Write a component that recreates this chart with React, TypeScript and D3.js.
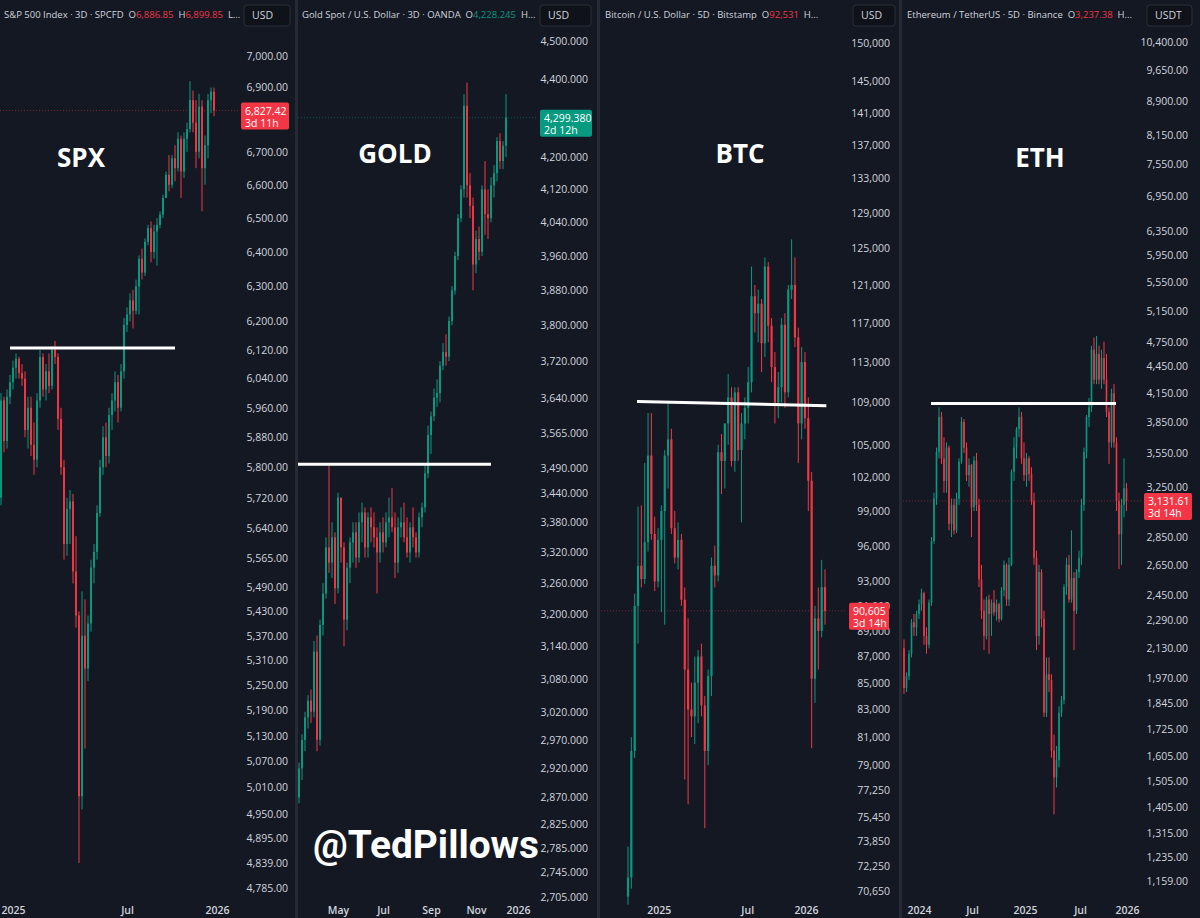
import React, { useRef, useEffect } from 'react';
import * as d3 from 'd3';

// [high, low, close] per bar, open is the previous close
type Candle = [number, number, number];

const UP = '#089981';
const DOWN = '#f23645';
const BG = '#141823';
const TEXT = '#d1d4dc';
const FONT = "'Open Sans', 'Noto Sans', sans-serif";

// ---------- S&P 500 ----------
const spxTicks = [7000, 6900, 6700, 6600, 6500, 6400, 6300, 6200, 6120, 6040, 5960, 5880, 5800, 5720, 5640, 5565, 5490, 5430, 5370, 5310, 5250, 5190, 5130, 5070, 5010, 4950, 4895, 4839, 4785];
const spxOpen = 5720;
const spxCandles: Candle[] = [
  [6000, 5700, 5980], [5990, 5840, 5870], [6010, 5850, 5990], [6050, 5970, 6030], [6090, 6010, 6070],
  [6110, 6040, 6095], [6100, 6040, 6055], [6080, 6020, 6040], [6060, 5880, 5900], [5990, 5850, 5960],
  [5990, 5830, 5860], [5920, 5780, 5820], [6000, 5800, 5980], [6120, 5960, 6100], [6110, 5990, 6010],
  [6080, 5980, 6060], [6110, 6000, 6020], [6130, 6010, 6120], [6145, 6080, 6100], [6110, 5900, 5930],
  [5960, 5780, 5800], [5820, 5560, 5600], [5720, 5570, 5690], [5740, 5600, 5710], [5730, 5500, 5530],
  [5620, 5390, 5420], [5430, 4840, 4990], [5480, 4960, 5370], [5460, 5100, 5290], [5420, 5260, 5400],
  [5560, 5380, 5540], [5600, 5500, 5580], [5700, 5560, 5680], [5820, 5670, 5800], [5910, 5780, 5880],
  [5920, 5800, 5830], [5960, 5810, 5940], [6000, 5900, 5980], [6060, 5950, 6030], [6050, 5920, 5960],
  [6080, 5950, 6060], [6210, 6040, 6190], [6240, 6170, 6220], [6280, 6200, 6260], [6290, 6180, 6230],
  [6320, 6220, 6300], [6390, 6220, 6380], [6410, 6320, 6340], [6440, 6330, 6430], [6480, 6420, 6470],
  [6490, 6370, 6400], [6480, 6380, 6460], [6500, 6360, 6480], [6520, 6470, 6510], [6570, 6500, 6560],
  [6640, 6560, 6630], [6690, 6580, 6600], [6690, 6590, 6680], [6720, 6610, 6650], [6760, 6640, 6740],
  [6750, 6560, 6640], [6760, 6620, 6740], [6790, 6700, 6770], [6920, 6760, 6860], [6890, 6760, 6790],
  [6860, 6650, 6700], [6880, 6680, 6840], [6860, 6520, 6650], [6750, 6600, 6720], [6880, 6680, 6860],
  [6900, 6820, 6886.85], [6899.85, 6810, 6827.42],
];
const spxDates = [{ label: '2025', at: 4 }, { label: 'Jul', at: 42 }, { label: '2026', at: 72 }];
const spxLevel = { from: 3, to: 58, start: 6125, end: 6125 };
const spxLast = { value: 6827.42, countdown: '3d 11h' };
const spxHeader = [
  { t: 'S&P 500 Index · 3D · SPCFD  O', c: TEXT }, { t: '6,886.85', c: DOWN },
  { t: '  H', c: TEXT }, { t: '6,899.85', c: DOWN }, { t: '  L...', c: TEXT },
];

// ---------- Gold ----------
const goldTicks = [4500, 4400, 4200, 4120, 4040, 3960, 3880, 3800, 3720, 3640, 3565, 3490, 3440, 3380, 3320, 3260, 3200, 3140, 3080, 3020, 2970, 2920, 2870, 2825, 2785, 2745, 2705];
const goldOpen = 2870;
const goldCandles: Candle[] = [
  [2930, 2860, 2920], [2980, 2900, 2970], [3020, 2950, 3010], [3050, 2990, 3040], [3060, 3000, 3020],
  [3150, 3010, 3130], [3160, 2950, 2970], [3190, 2960, 3180], [3260, 3160, 3240], [3350, 3230, 3330],
  [3500, 3280, 3300], [3380, 3270, 3350], [3360, 3220, 3250], [3440, 3240, 3430], [3430, 3300, 3330],
  [3340, 3140, 3190], [3300, 3170, 3290], [3350, 3260, 3340], [3380, 3300, 3360], [3380, 3290, 3310],
  [3400, 3300, 3380], [3420, 3340, 3400], [3410, 3310, 3330], [3400, 3310, 3390], [3410, 3340, 3370],
  [3400, 3330, 3350], [3370, 3240, 3320], [3380, 3300, 3360], [3390, 3320, 3340], [3400, 3330, 3380],
  [3430, 3350, 3390], [3450, 3360, 3370], [3400, 3270, 3300], [3390, 3280, 3370], [3410, 3350, 3380],
  [3420, 3340, 3350], [3390, 3310, 3320], [3380, 3300, 3370], [3410, 3330, 3350], [3360, 3310, 3320],
  [3400, 3310, 3390], [3420, 3370, 3410], [3500, 3400, 3480], [3580, 3470, 3560], [3610, 3520, 3600],
  [3660, 3590, 3640], [3680, 3620, 3650], [3720, 3630, 3710], [3760, 3700, 3740], [3780, 3710, 3730],
  [3820, 3720, 3810], [3890, 3800, 3880], [3970, 3870, 3960], [4060, 3950, 4050], [4130, 4040, 4120],
  [4360, 4100, 4330], [4390, 4100, 4130], [4160, 4050, 4080], [4100, 3880, 3940], [4020, 3920, 4000],
  [4030, 3950, 3970], [4130, 3960, 4120], [4190, 4010, 4060], [4120, 4000, 4050], [4150, 4040, 4130],
  [4180, 4100, 4160], [4250, 4140, 4240], [4260, 4170, 4190], [4240, 4170, 4228.245], [4360, 4200, 4299.38],
];
const goldDates = [{ label: 'May', at: 13 }, { label: 'Jul', at: 28 }, { label: 'Sep', at: 44 }, { label: 'Nov', at: 59 }, { label: '2026', at: 73 }];
const goldLevel = { from: -0.4, to: 64, start: 3499, end: 3499 };
const goldLast = { value: 4299.38, countdown: '2d 12h' };
const goldHeader = [
  { t: 'Gold Spot / U.S. Dollar · 3D · OANDA  O', c: TEXT }, { t: '4,228.245', c: UP }, { t: '  H...', c: TEXT },
];

// ---------- Bitcoin ----------
const btcTicks = [150000, 145000, 141000, 137000, 133000, 129000, 125000, 121000, 117000, 113000, 109000, 105000, 102000, 99000, 96000, 93000, 91000, 89000, 87000, 85000, 83000, 81000, 79000, 77250, 75450, 73850, 72250, 70650];
const btcOpen = 70300;
const btcCandles: Candle[] = [
  [73500, 69800, 71500], [81000, 70800, 80000], [92000, 79500, 91000], [99400, 88000, 94300], [99500, 92500, 93200],
  [103300, 92800, 96300], [108000, 95500, 104000], [108000, 96500, 97000], [98500, 92200, 93000], [97500, 92500, 96500],
  [99500, 90500, 99000], [104500, 89500, 104000], [109000, 101000, 105500], [106500, 97000, 97500], [99000, 94500, 95000],
  [98000, 94000, 96500], [97000, 91000, 91500], [92500, 78000, 86000], [90000, 76300, 83000], [85000, 81000, 82500],
  [87000, 80500, 85000], [87500, 82000, 87000], [88000, 82500, 83300], [84000, 74700, 80000], [86000, 79000, 85500],
  [95000, 84000, 94300], [96000, 92500, 93500], [105000, 93000, 104300], [106000, 100500, 103500], [107000, 101000, 107000],
  [111800, 105000, 109500], [110500, 103000, 103500], [110500, 102500, 110000], [110500, 103500, 104500], [108000, 98000, 107000],
  [109500, 105500, 108500], [112500, 107000, 111000], [123000, 110000, 119800], [121000, 116000, 118000], [120500, 115000, 119000],
  [119500, 112000, 114900], [124000, 113500, 123000], [123500, 115000, 116700], [117500, 111000, 112500], [114000, 107000, 109000],
  [112000, 107500, 110500], [117500, 109000, 116800], [118000, 108500, 110000], [121000, 109500, 120500], [126000, 119500, 121000],
  [124000, 114500, 115500], [116500, 103300, 107000], [114500, 105500, 113000], [114000, 106500, 107500], [109500, 99000, 101700],
  [102500, 80200, 85300], [91000, 83500, 90000], [92500, 86000, 89000], [94800, 88500, 92531], [94000, 89500, 90605],
];
const btcDates = [{ label: '2025', at: 9.2 }, { label: 'Jul', at: 35.7 }, { label: '2026', at: 53.3 }];
const btcLevel = { from: 2.7, to: 59.4, start: 109100, end: 108700 };
const btcLast = { value: 90605, countdown: '3d 14h' };
const btcHeader = [
  { t: 'Bitcoin / U.S. Dollar · 5D · Bitstamp  O', c: TEXT }, { t: '92,531', c: DOWN }, { t: '  H...', c: TEXT },
];

// ---------- Ethereum ----------
const ethTicks = [10400, 9650, 8900, 8150, 7550, 6950, 6350, 5950, 5550, 5150, 4750, 4450, 4150, 3850, 3550, 3250, 2850, 2650, 2450, 2290, 2130, 1970, 1845, 1725, 1605, 1505, 1405, 1315, 1235, 1159];
const ethOpen = 2130;
const ethCandles: Candle[] = [
  [2180, 1890, 1920], [2000, 1900, 1980], [2120, 1960, 2100], [2300, 2080, 2280], [2330, 2200, 2250],
  [2350, 2200, 2330], [2420, 2300, 2390], [2490, 2350, 2460], [2470, 2150, 2200], [2250, 2100, 2150],
  [2420, 2130, 2400], [2850, 2380, 2820], [3200, 2800, 3150], [3600, 3100, 3560], [4000, 3500, 3900],
  [3950, 3450, 3500], [3700, 3200, 3300], [3650, 3200, 3600], [3620, 2900, 2950], [3150, 2850, 3100],
  [3150, 2870, 2900], [3200, 2880, 3150], [3500, 3100, 3470], [3900, 3450, 3850], [3880, 3550, 3600],
  [3650, 3300, 3350], [3500, 3250, 3440], [3450, 2850, 3080], [3520, 3050, 3480], [3550, 3050, 3100],
  [3150, 2500, 2550], [2650, 2300, 2350], [2420, 2120, 2200], [2440, 2180, 2420], [2450, 2100, 2330],
  [2420, 2200, 2400], [2480, 2320, 2340], [2420, 2290, 2390], [2400, 2280, 2300], [2500, 2290, 2480],
  [2680, 2440, 2650], [2660, 2380, 2420], [2700, 2380, 2650], [3400, 2640, 3380], [3700, 3300, 3600],
  [3800, 3500, 3780], [4000, 3700, 3900], [3950, 3450, 3500], [3650, 3300, 3350], [3550, 3250, 3500],
  [3520, 3300, 3360], [3420, 3100, 3130], [3200, 2650, 2700], [2750, 2120, 2200], [2650, 2150, 2600],
  [2620, 2250, 2300], [2350, 1780, 1800], [2080, 1780, 1990], [2080, 1900, 1960], [1990, 1600, 1630],
  [1700, 1380, 1520], [1650, 1480, 1590], [1830, 1560, 1800], [1880, 1780, 1860], [2520, 1840, 2500],
  [2700, 2450, 2650], [2720, 2400, 2420], [2900, 2400, 2560], [2600, 2120, 2350], [2620, 2330, 2600],
  [2750, 2560, 2700], [3150, 2650, 3100], [3600, 3050, 3560], [3920, 3500, 3900], [4100, 3800, 4000],
  [4700, 3950, 4650], [4800, 4250, 4300], [4820, 4250, 4600], [4700, 4250, 4300], [4650, 4200, 4550],
  [4750, 4250, 4300], [4600, 3900, 3950], [4000, 3450, 3650], [4200, 3600, 4150], [4250, 3600, 3650],
  [3700, 3050, 3130], [3200, 2620, 2870], [3150, 2650, 3100], [3500, 3000, 3237.38], [3280, 3050, 3131.61],
];
const ethDates = [{ label: '2024', at: 6 }, { label: 'Jul', at: 27.2 }, { label: '2025', at: 48.4 }, { label: 'Jul', at: 70.4 }, { label: '2026', at: 89.2 }];
const ethLevel = { from: 10.8, to: 84.8, start: 4040, end: 4040 };
const ethLast = { value: 3131.61, countdown: '3d 14h' };
const ethHeader = [
  { t: 'Ethereum / TetherUS · 5D · Binance  O', c: TEXT }, { t: '3,237.38', c: DOWN }, { t: '  H...', c: TEXT },
];

const panels = [
  { key: 'spx', name: 'SPX', header: spxHeader, currency: 'USD', ticks: spxTicks, fmt: ',.2f', open: spxOpen, candles: spxCandles, dates: spxDates, level: spxLevel, last: spxLast, lastColor: DOWN,
    left: 0, plotRight: 240, axisRight: 288, yRange: [56, 888], xRange: [1, 214], nameAt: [81, 158], usd: [244, 290], tag: [241, 289] },
  { key: 'gold', name: 'GOLD', header: goldHeader, currency: 'USD', ticks: goldTicks, fmt: ',.3f', open: goldOpen, candles: goldCandles, dates: goldDates, level: goldLevel, last: goldLast, lastColor: UP,
    left: 298, plotRight: 538, axisRight: 588, yRange: [41, 897], xRange: [299, 506], nameAt: [395, 154], usd: [540, 591], tag: [540, 592] },
  { key: 'btc', name: 'BTC', header: btcHeader, currency: 'USD', ticks: btcTicks, fmt: ',.0f', open: btcOpen, candles: btcCandles, dates: btcDates, level: btcLevel, last: btcLast, lastColor: DOWN,
    left: 601, plotRight: 846, axisRight: 890, yRange: [43, 891], xRange: [628, 825], nameAt: [740, 154], usd: [853, 895], tag: [849, 889] },
  { key: 'eth', name: 'ETH', header: ethHeader, currency: 'USDT', ticks: ethTicks, fmt: ',.2f', open: ethOpen, candles: ethCandles, dates: ethDates, level: ethLevel, last: ethLast, lastColor: DOWN,
    left: 903, plotRight: 1143, axisRight: 1188, yRange: [42, 881], xRange: [904, 1126.5], nameAt: [1040, 158], usd: [1147, 1192], tag: [1144, 1192] },
];

const W = 1200;
const H = 918;

const App: React.FC = () => {
  const svgRef = useRef<SVGSVGElement | null>(null);

  useEffect(() => {
    if (!svgRef.current) return;
    const svg = d3.select(svgRef.current);
    svg.selectAll('*').remove();

    svg.append('rect').attr('width', W).attr('height', H).attr('fill', BG);
    const defs = svg.append('defs');

    panels.forEach(p => {
      const y = d3.scaleLog()
        .domain([p.ticks[0], p.ticks[p.ticks.length - 1]])
        .range(p.yRange);
      const x = d3.scaleLinear()
        .domain([0, p.candles.length - 1])
        .range(p.xRange);
      const step = x(1) - x(0);
      const bodyW = Math.max(1, step * 0.65);

      defs.append('clipPath').attr('id', `clip-${p.key}`)
        .append('rect')
        .attr('x', p.left).attr('y', 0)
        .attr('width', p.plotRight - p.left).attr('height', H);

      const g = svg.append('g');
      const plot = g.append('g').attr('clip-path', `url(#clip-${p.key})`);

      const rows = p.candles.map((c, i) => ({
        i,
        o: i === 0 ? p.open : p.candles[i - 1][2],
        h: c[0],
        l: c[1],
        c: c[2],
      }));

      // last price line
      plot.append('line')
        .attr('x1', p.left).attr('x2', p.plotRight)
        .attr('y1', y(p.last.value)).attr('y2', y(p.last.value))
        .attr('stroke', p.lastColor).attr('stroke-opacity', 0.45)
        .attr('stroke-dasharray', '1,2');

      plot.selectAll('line.wick')
        .data(rows)
        .join('line')
        .attr('class', 'wick')
        .attr('x1', d => x(d.i)).attr('x2', d => x(d.i))
        .attr('y1', d => y(d.h)).attr('y2', d => y(d.l))
        .attr('stroke', d => (d.c >= d.o ? UP : DOWN))
        .attr('stroke-width', 1);

      plot.selectAll('rect.body')
        .data(rows)
        .join('rect')
        .attr('class', 'body')
        .attr('x', d => x(d.i) - bodyW / 2)
        .attr('width', bodyW)
        .attr('y', d => y(Math.max(d.o, d.c)))
        .attr('height', d => Math.max(1, Math.abs(y(d.o) - y(d.c))))
        .attr('fill', d => (d.c >= d.o ? UP : DOWN));

      // white level line
      plot.append('line')
        .attr('x1', x(p.level.from)).attr('x2', x(p.level.to))
        .attr('y1', y(p.level.start)).attr('y2', y(p.level.end))
        .attr('stroke', '#ffffff').attr('stroke-width', 3);

      // big name label
      g.append('text')
        .attr('x', p.nameAt[0]).attr('y', p.nameAt[1] + 9)
        .attr('text-anchor', 'middle')
        .attr('font-family', FONT).attr('font-weight', 700).attr('font-size', 26)
        .attr('fill', '#ffffff')
        .text(p.name);

      // price axis
      const axisY = g.append('g')
        .attr('transform', `translate(${p.axisRight},0)`)
        .call(d3.axisLeft(y).tickValues(p.ticks).tickFormat(d => d3.format(p.fmt)(d as number)).tickSize(0).tickPadding(0));
      axisY.select('.domain').remove();
      axisY.selectAll('text')
        .attr('font-family', FONT).attr('font-size', 10.5).attr('fill', TEXT);

      // time axis
      const axisX = plot.append('g')
        .attr('transform', `translate(0,${H - 11})`)
        .call(d3.axisBottom(x).tickValues(p.dates.map(d => d.at)).tickFormat((_, i) => p.dates[i].label).tickSize(0).tickPadding(0));
      axisX.select('.domain').remove();
      axisX.selectAll('text')
        .attr('font-family', FONT).attr('font-size', 10.5).attr('font-weight', 600).attr('fill', TEXT);

      // last price tag
      const ty = y(p.last.value);
      g.append('rect')
        .attr('x', p.tag[0]).attr('y', ty - 8)
        .attr('width', p.tag[1] - p.tag[0]).attr('height', 27)
        .attr('rx', 2)
        .attr('fill', p.lastColor);
      g.append('text')
        .attr('x', p.tag[0] + 4).attr('y', ty + 4)
        .attr('font-family', FONT).attr('font-size', 10.5).attr('fill', '#ffffff')
        .text(d3.format(p.fmt)(p.last.value));
      g.append('text')
        .attr('x', p.tag[0] + 4).attr('y', ty + 16)
        .attr('font-family', FONT).attr('font-size', 10.5).attr('fill', '#ffffff')
        .text(p.last.countdown);

      // header
      const head = g.append('text')
        .attr('x', p.left + 4).attr('y', 18)
        .attr('font-family', FONT).attr('font-size', 9.5).attr('fill', TEXT);
      p.header.forEach(part => {
        head.append('tspan').attr('fill', part.c).attr('xml:space', 'preserve').text(part.t);
      });

      // currency box
      g.append('rect')
        .attr('x', p.usd[0]).attr('y', 5)
        .attr('width', p.usd[1] - p.usd[0]).attr('height', 21)
        .attr('rx', 3)
        .attr('fill', '#0f1219').attr('stroke', '#2a2e39');
      g.append('text')
        .attr('x', p.usd[0] + 8).attr('y', 19)
        .attr('font-family', FONT).attr('font-size', 10.5).attr('fill', TEXT)
        .text(p.currency);
    });

    // panel separators
    [295, 597, 899].forEach(sx => {
      svg.append('rect').attr('x', sx).attr('y', 0).attr('width', 3).attr('height', H).attr('fill', '#262a34');
    });

    svg.append('text')
      .attr('x', 313).attr('y', 858)
      .attr('font-family', "Roboto, 'Open Sans', sans-serif").attr('font-weight', 700).attr('font-size', 39)
      .attr('textLength', 226).attr('lengthAdjust', 'spacingAndGlyphs')
      .attr('fill', '#ffffff')
      .text('@TedPillows');
  }, []);

  return (
    <div style={{ position: 'fixed', left: 0, top: 0 }}>
      <svg ref={svgRef} width={W} height={H} style={{ display: 'block' }} />
    </div>
  );
};

export default App;
